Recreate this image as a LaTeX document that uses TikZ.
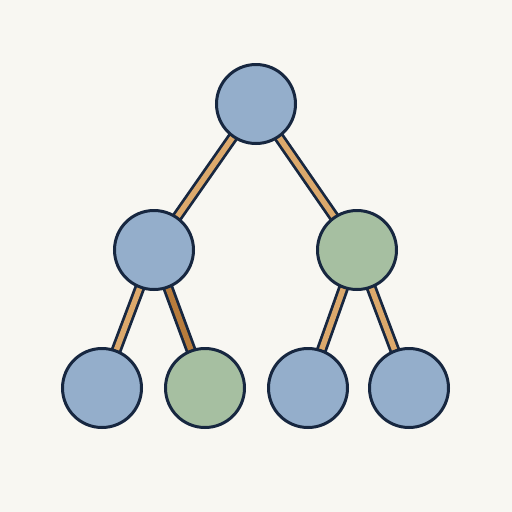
\documentclass[tikz,border=0pt]{standalone}
\begin{document}
\begin{tikzpicture}[x=1pt,y=-1pt,
  nodeblue/.style={circle,draw=outl,line width=3pt,fill=blu,minimum size=79pt,inner sep=0pt},
  nodegreen/.style={nodeblue,fill=grn},
  edge/.style={draw=outl,line width=2.8pt,double=tan,double distance=5.5pt},
  edgedark/.style={edge,double=tandk}]
\definecolor{outl}{HTML}{172740}
\definecolor{blu}{HTML}{94AECB}
\definecolor{grn}{HTML}{A6BFA1}
\definecolor{tan}{HTML}{DCA96C}
\definecolor{tandk}{HTML}{B87C3C}
\definecolor{bg}{HTML}{F8F7F2}
\fill[bg] (0,0) rectangle (512,512);
\useasboundingbox (0,0) rectangle (512,512);
\coordinate (cr) at (256,104);
\coordinate (cl) at (154,250);
\coordinate (cR) at (357,250);
\coordinate (c1) at (102,388);
\coordinate (c2) at (205,388);
\coordinate (c3) at (308,388);
\coordinate (c4) at (409,388);
\draw[edge] (cr) -- (cl);
\draw[edge] (cr) -- (cR);
\draw[edge] (cl) -- (c1);
\draw[edgedark] (cl) -- (c2);
\draw[edge] (cR) -- (c3);
\draw[edge] (cR) -- (c4);
\node[nodeblue] (r) at (cr) {};
\node[nodeblue] (l) at (cl) {};
\node[nodegreen] (R) at (cR) {};
\node[nodeblue] (b1) at (c1) {};
\node[nodegreen] (b2) at (c2) {};
\node[nodeblue] (b3) at (c3) {};
\node[nodeblue] (b4) at (c4) {};
\end{tikzpicture}
\end{document}
